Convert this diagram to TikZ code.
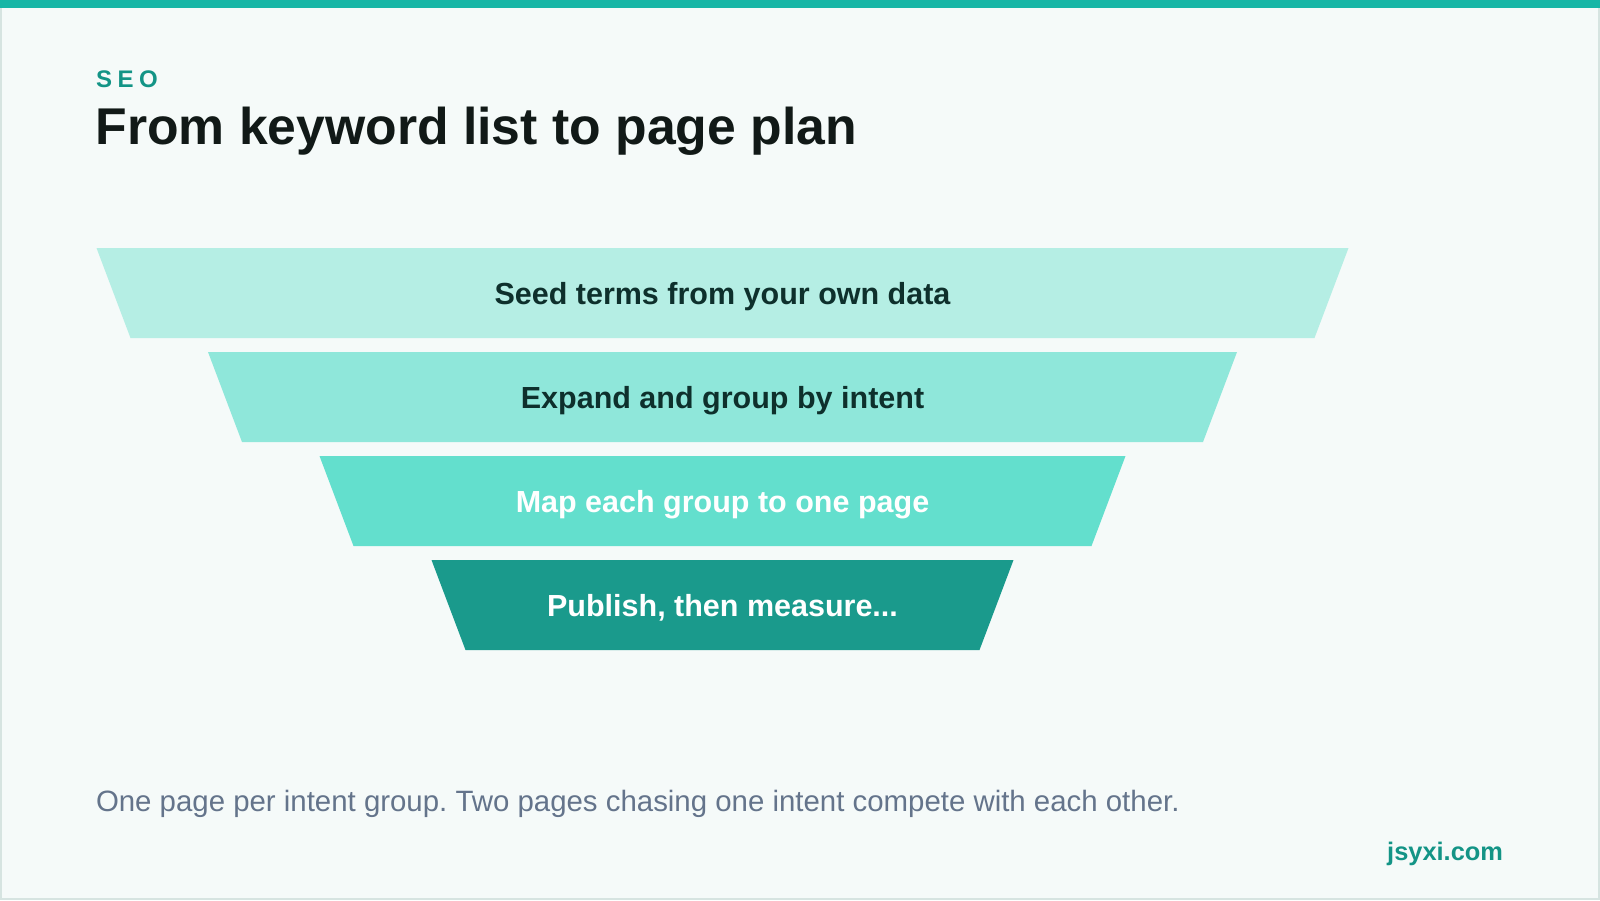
\documentclass[tikz,border=0pt]{standalone}
\usepackage{fontspec}
\setmainfont{Liberation Sans}
\frenchspacing

\definecolor{paperbg}{HTML}{F5FAF9}
\definecolor{framegray}{HTML}{D6E4E1}
\definecolor{topbar}{HTML}{17B6A6}
\definecolor{kicker}{HTML}{139486}
\definecolor{titleink}{HTML}{111917}
\definecolor{noteink}{HTML}{64748B}
\definecolor{darkink}{HTML}{0E302C}
\definecolor{stageA}{HTML}{B5EEE4}
\definecolor{stageB}{HTML}{8FE7DA}
\definecolor{stageC}{HTML}{63DFCD}
\definecolor{stageD}{HTML}{1A9A8C}

\begin{document}
\begin{tikzpicture}[x=1pt,y=-1pt]
                    \tikzset{every node/.style={inner sep=0pt, outer sep=0pt}}
                    \tikzset{stagelabel/.style={anchor=base, font=\bfseries\fontsize{30.5}{36}\selectfont}}
                    \useasboundingbox (0,0) rectangle (1600,900);
                    \fill[paperbg] (0,0) rectangle (1600,900);
                    \draw[framegray, line width=2pt] (1,1) rectangle (1599,899);
                    \fill[topbar] (0,0) rectangle (1600,7.5);
                    % heading
                    \node[anchor=base west, text=kicker, font=\bfseries\fontsize{24}{28}\selectfont]
                        (kick) at (96,87.7) {S\hspace{5.5pt}E\hspace{5.5pt}O};
                    \node[anchor=base west, text=titleink, font=\bfseries\fontsize{51.7}{60}\selectfont]
                        (title) at (95.5,144) {From keyword list to page plan};
                    % funnel
                    \fill[stageA] (96.5,248) -- (1348.5,248) -- (1314.5,338) -- (130.5,338) -- cycle;
                    \fill[stageB] (208,352) -- (1237,352) -- (1203,442) -- (242,442) -- cycle;
                    \fill[stageC] (319.5,456) -- (1125.5,456) -- (1091.5,546) -- (353.5,546) -- cycle;
                    \fill[stageD] (431.5,560) -- (1013.5,560) -- (979.5,650) -- (465.5,650) -- cycle;
                    \node[stagelabel, text=darkink] (seed) at (722.5,304) {Seed terms from your own data};
                    \node[stagelabel, text=darkink] (expand) at (722.5,408) {Expand and group by intent};
                    \node[stagelabel, text=white] (map) at (722.5,512) {Map each group to one page};
                    \node[stagelabel, text=white] (publish) at (722.5,616) {Publish, then measure...};
                    % footer
                    \node[anchor=base west, text=noteink, font=\fontsize{29.4}{34}\selectfont]
                        (note) at (96,811.7) {One page per intent group. Two pages chasing one intent compete with each other.};
                    \node[anchor=base east, text=kicker, font=\bfseries\fontsize{25.4}{30}\selectfont]
                        (site) at (1503,860) {jsyxi.com};
\end{tikzpicture}
\end{document}
